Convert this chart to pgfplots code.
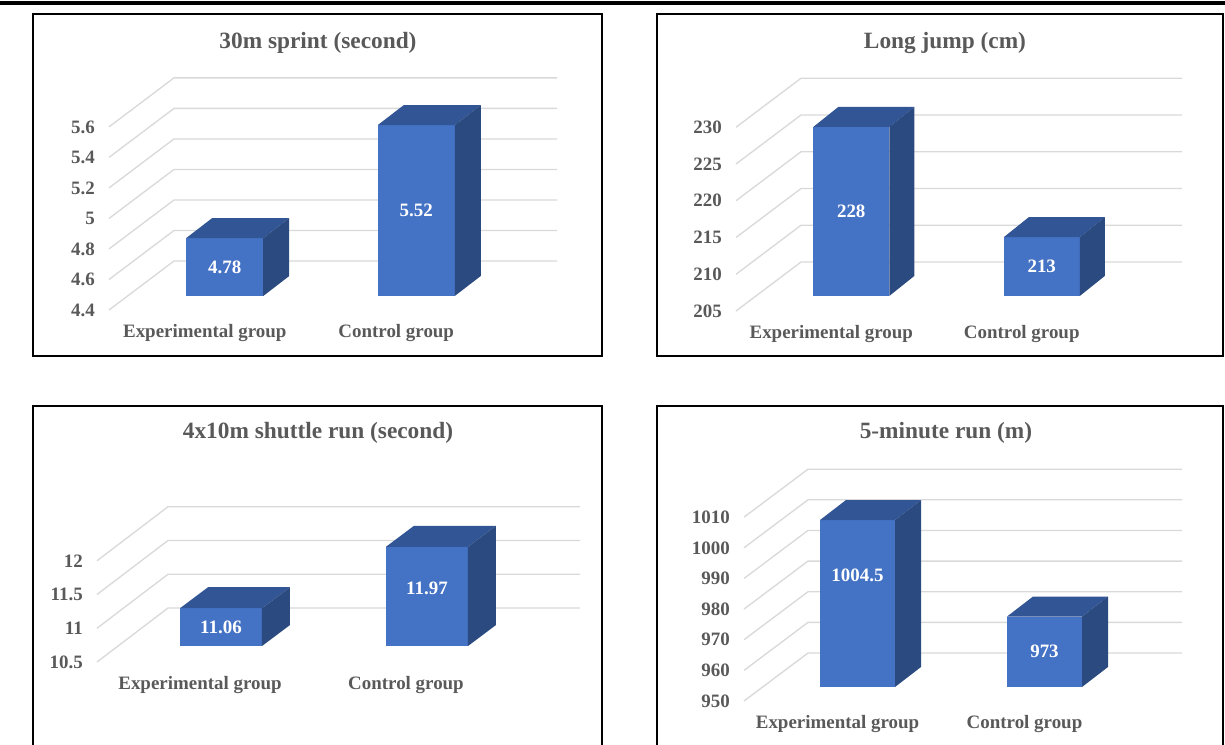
\documentclass[border=0pt]{standalone}
\usepackage{fontspec}
\setmainfont{Liberation Serif}
\usepackage{pgfplots}
\pgfplotsset{compat=1.18}

\definecolor{barfront}{HTML}{4472C4}
\definecolor{bartop}{HTML}{325596}
\definecolor{barside}{HTML}{2B4A7F}
\definecolor{gridc}{HTML}{D9D9D9}
\definecolor{txt}{HTML}{595959}

\newcommand\lblfont{\bfseries\fontsize{14.2}{17}\selectfont}
\newcommand\ttlfont{\bfseries\fontsize{17.5}{21}\selectfont}

% Geometry of one panel, lengths in pixels (1px = 0.75pt).
% #1 px per category, #2 px per value unit, #3 floor value, #4 top tick,
% #5/#6 offset front plane -> bar plane, #7/#8 offset front plane -> back wall,
% #9 bar width
\newcommand\SetGeom[9]{%
  \def\gfloor{#3}%
  \pgfmathsetmacro\gfx{#5/#1}\pgfmathsetmacro\gfy{#6/#2}%
  \pgfmathsetmacro\gwx{#7/#1}\pgfmathsetmacro\gwy{#8/#2}%
  \pgfmathsetmacro\gbw{#9/#1}%
  \pgfmathsetmacro\gux{0.75*#1}\pgfmathsetmacro\guy{0.75*#2}%
  \pgfmathsetmacro\gxmin{-0.5-\gfx}\pgfmathsetmacro\gxmax{1.5+\gwx-\gfx}%
  \pgfmathsetmacro\gymin{#3-\gfy}\pgfmathsetmacro\gymax{#4-\gfy+\gwy}%
  \pgfmathsetmacro\gtly{-0.75*#6}\pgfmathsetmacro\gclx{-0.75*#5}%
  \def\gU{#1}\def\gS{#2}%
}
% depth of the bars (px right, px up)
\newcommand\SetDepth[2]{%
  \pgfmathsetmacro\gbdx{#1/\gU}\pgfmathsetmacro\gbdy{#2/\gS}%
}

% one gridline: side wall diagonal + back wall line
\newcommand\GridLine[1]{%
  \pgfmathsetmacro\ga{#1-\gfy}%
  \pgfmathsetmacro\gb{#1-\gfy+\gwy}%
  \pgfmathsetmacro\gc{\gxmin+\gwx}%
  \edef\gridtmp{\noexpand\addplot[gridc, line width=1pt] coordinates {(\gxmin,\ga) (\gc,\gb) (\gxmax,\gb)};}%
  \gridtmp}

\pgfplotsset{valuelabel/.style={draw=none, mark=none, nodes near coords,
    point meta=explicit symbolic,
    nodes near coords style={anchor=center, text=white, font=\lblfont, inner sep=0pt}}}

% one 3-D bar: [#1 height of the value label], #2 category position, #3 value
\newcommand\Cube[3][]{%
  \pgfmathsetmacro\cxl{#2-\gbw/2}%
  \pgfmathsetmacro\cxr{#2+\gbw/2}%
  \pgfmathsetmacro\cxlb{\cxl+\gbdx}%
  \pgfmathsetmacro\cxrb{\cxr+\gbdx}%
  \pgfmathsetmacro\cvb{#3+\gbdy}%
  \pgfmathsetmacro\cfb{\gfloor+\gbdy}%
  \ifx\relax#1\relax\pgfmathsetmacro\cmid{(#3+\gfloor)/2}\else\def\cmid{#1}\fi
  \edef\cubetmp{%
    \noexpand\addplot[draw=none, fill=barfront] coordinates {(\cxl,\gfloor) (\cxr,\gfloor) (\cxr,#3) (\cxl,#3)};%
    \noexpand\addplot[draw=none, fill=bartop] coordinates {(\cxl,#3) (\cxr,#3) (\cxrb,\cvb) (\cxlb,\cvb)};%
    \noexpand\addplot[draw=none, fill=barside] coordinates {(\cxr,\gfloor) (\cxrb,\cfb) (\cxrb,\cvb) (\cxr,#3)};%
    \noexpand\addplot[valuelabel] coordinates {(#2,\cmid) [#3]};%
  }\cubetmp}

\pgfplotsset{panel/.style={
    anchor=south west,
    x=\gux pt, y=\guy pt,
    xmin=\gxmin, xmax=\gxmax, ymin=\gymin, ymax=\gymax,
    clip=false, axis line style={draw=none}, major tick length=0pt,
    xtick={0,1}, xticklabels={Experimental group, Control group},
    ticklabel style={font=\lblfont, text=txt, inner sep=0pt},
    yticklabel style={anchor=east, xshift=-10.5pt, yshift=\gtly pt},
    xticklabel style={anchor=center, xshift=\gclx pt, yshift=-17.25pt},
    /pgf/number format/assume math mode=true,
    /pgf/number format/1000 sep={},
}}

\begin{document}
\begin{tikzpicture}
\begin{scope}[x=0.75pt, y=-0.75pt]
  \useasboundingbox (0,0) rectangle (1225,744);
  \clip (0,0) rectangle (1225,744);
  \fill[black] (0,1) rectangle (1225,5);
  \draw[black, line width=1.5pt] (33,14) rectangle (602,356);
  \draw[black, line width=1.5pt] (657,14) rectangle (1222.5,356);
  \draw[black, line width=1.5pt] (33,406) rectangle (602,760);
  \draw[black, line width=1.5pt] (657,406) rectangle (1222.5,760);
  \node[font=\ttlfont, text=txt] at (318,43) {30m sprint (second)};
  \node[font=\ttlfont, text=txt] at (945,43) {Long jump (cm)};
  \node[font=\ttlfont, text=txt] at (318,433) {4x10m shuttle run (second)};
  \node[font=\ttlfont, text=txt] at (946,433) {5-minute run (m)};
\end{scope}

% 30m sprint
\SetGeom{191.5}{152.6}{4.4}{5.6}{20}{14}{65}{49}{77}\SetDepth{26}{20}
\begin{axis}[panel, at={(0.75*109pt,-0.75*310pt)},
  ytick={4.4,4.6,4.8,5,5.2,5.4,5.6}]
  \GridLine{4.4}\GridLine{4.6}\GridLine{4.8}\GridLine{5}
  \GridLine{5.2}\GridLine{5.4}\GridLine{5.6}
  \Cube{0}{4.78}
  \Cube{1}{5.52}
\end{axis}

% Long jump
\SetGeom{190.5}{7.35}{205}{230}{20}{15}{65}{49}{76}\SetDepth{25}{20}
\begin{axis}[panel, at={(0.75*736pt,-0.75*311pt)},
  ytick={205,210,215,220,225,230}]
  \GridLine{205}\GridLine{210}\GridLine{215}
  \GridLine{220}\GridLine{225}\GridLine{230}
  \Cube{0}{228}
  \Cube{1}{213}
\end{axis}

% 4x10m shuttle run
\SetGeom{206}{67.5}{10.5}{12}{21}{16}{71}{54}{82}\SetDepth{28}{21}
\begin{axis}[panel, at={(0.75*97pt,-0.75*662pt)},
  ytick={10.5,11,11.5,12}]
  \GridLine{10.5}\GridLine{11}\GridLine{11.5}\GridLine{12}
  \Cube{0}{11.06}
  \Cube[11.36]{1}{11.97}
\end{axis}

% 5-minute run
\SetGeom{187}{3.064}{950}{1010}{20}{14}{64}{48}{75}\SetDepth{26}{20}
\begin{axis}[panel, at={(0.75*744pt,-0.75*701pt)},
  ytick={950,960,970,980,990,1000,1010}]
  \GridLine{950}\GridLine{960}\GridLine{970}\GridLine{980}
  \GridLine{990}\GridLine{1000}\GridLine{1010}
  \Cube[986.5]{0}{1004.5}
  \Cube{1}{973}
\end{axis}
\end{tikzpicture}
\end{document}
